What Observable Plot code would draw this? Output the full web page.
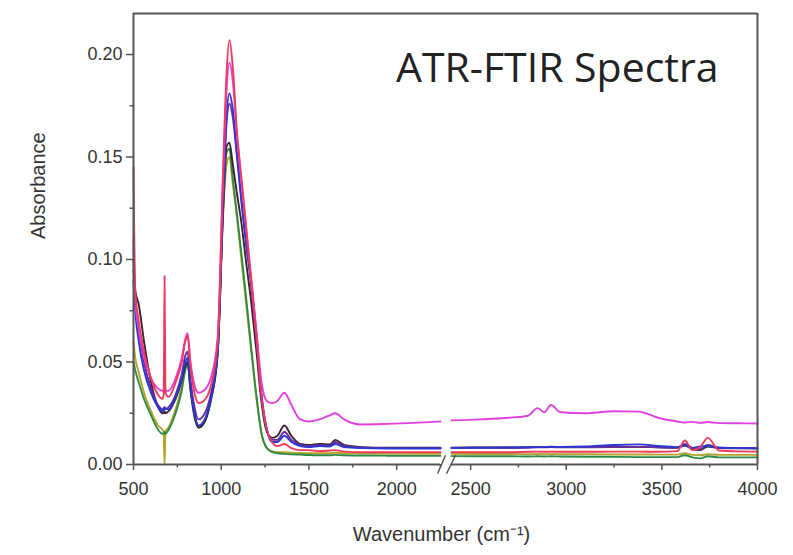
<!DOCTYPE html>
<html>
<head>
<meta charset="utf-8">
<script src="https://cdn.jsdelivr.net/npm/d3@7"></script>
<script src="https://cdn.jsdelivr.net/npm/@observablehq/plot@0.6"></script>
<style>
  body { margin: 0; background: #fff; }
</style>
</head>
<body>
<div id="chart"></div>
<script>
// Wavenumber grid (cm-1); the axis is broken between 2250 and 2400
const wavenumber = [
  500, 510, 530, 560, 600, 640, 665, 672, 677, 682,
  700, 740, 775, 795, 808, 825, 850, 870, 900, 940,
  980, 1010, 1030, 1047, 1065, 1090, 1115, 1140, 1170, 1200,
  1230, 1260, 1290, 1320, 1360, 1400, 1450, 1500, 1560, 1620,
  1650, 1700, 1800, 1950, 2100, 2250,
  2400, 2550, 2700, 2800, 2850, 2885, 2920, 2970, 3100, 3250,
  3380, 3480, 3580, 3620, 3660, 3700, 3740, 3800, 3900, 4000
];

const absMagenta = [
  0.110, 0.080, 0.066, 0.052, 0.042, 0.037, 0.036, 0.036, 0.037, 0.036,
  0.036, 0.042, 0.052, 0.061, 0.064, 0.050, 0.038, 0.035, 0.036, 0.042,
  0.062, 0.138, 0.182, 0.196, 0.188, 0.160, 0.138, 0.117, 0.092, 0.066,
  0.040, 0.031, 0.030, 0.031, 0.035, 0.029, 0.022, 0.021, 0.022, 0.024,
  0.025, 0.022, 0.0195, 0.0198, 0.0203, 0.021,
  0.0215, 0.022, 0.0228, 0.0238, 0.0275, 0.0255, 0.029, 0.0255, 0.025, 0.026,
  0.0258, 0.0228, 0.021, 0.0205, 0.0208, 0.0203, 0.0207, 0.0202, 0.0201, 0.020
];

const absRed = [
  0.145, 0.085, 0.070, 0.055, 0.042, 0.034, 0.032, 0.034, 0.092, 0.035,
  0.033, 0.040, 0.050, 0.060, 0.063, 0.048, 0.034, 0.030, 0.031, 0.038,
  0.060, 0.142, 0.190, 0.207, 0.195, 0.162, 0.140, 0.118, 0.090, 0.063,
  0.033, 0.017, 0.011, 0.009, 0.010, 0.008, 0.007, 0.007, 0.0065, 0.0068,
  0.007, 0.0063, 0.006, 0.006, 0.006, 0.006,
  0.006, 0.006, 0.006, 0.0062, 0.0063, 0.0062, 0.0063, 0.0062, 0.0062, 0.0063,
  0.0063, 0.0062, 0.0065, 0.0117, 0.007, 0.0085, 0.013, 0.0068, 0.0064, 0.0063
];

const absBlue = [
  0.090, 0.075, 0.060, 0.046, 0.035, 0.028, 0.026, 0.027, 0.028, 0.027,
  0.027, 0.033, 0.042, 0.050, 0.052, 0.038, 0.024, 0.019, 0.021, 0.032,
  0.056, 0.128, 0.170, 0.181, 0.174, 0.152, 0.130, 0.110, 0.090, 0.064,
  0.034, 0.017, 0.011, 0.011, 0.014, 0.011, 0.009, 0.0085, 0.009, 0.0088,
  0.010, 0.0085, 0.008, 0.0078, 0.0078, 0.0078,
  0.008, 0.0082, 0.0083, 0.0084, 0.0085, 0.0085, 0.0086, 0.0086, 0.0088, 0.0095,
  0.0098, 0.009, 0.0085, 0.0095, 0.008, 0.0088, 0.009, 0.0082, 0.008, 0.0079
];

const absPurple = [
  0.095, 0.080, 0.066, 0.050, 0.037, 0.029, 0.027, 0.027, 0.028, 0.027,
  0.028, 0.034, 0.044, 0.053, 0.055, 0.041, 0.027, 0.022, 0.024, 0.034,
  0.057, 0.126, 0.166, 0.176, 0.170, 0.150, 0.128, 0.109, 0.088, 0.062,
  0.033, 0.017, 0.012, 0.012, 0.016, 0.012, 0.0095, 0.009, 0.0095, 0.009,
  0.011, 0.009, 0.0082, 0.008, 0.008, 0.008,
  0.0081, 0.0082, 0.0082, 0.0083, 0.0084, 0.0084, 0.0085, 0.0084, 0.0084, 0.0085,
  0.0086, 0.0084, 0.0083, 0.010, 0.008, 0.0075, 0.0095, 0.0082, 0.0081, 0.008
];

const absDark = [
  0.100, 0.085, 0.078, 0.060, 0.040, 0.028, 0.025, 0.025, 0.026, 0.025,
  0.026, 0.032, 0.041, 0.048, 0.050, 0.037, 0.023, 0.018, 0.020, 0.031,
  0.054, 0.122, 0.155, 0.157, 0.147, 0.132, 0.118, 0.100, 0.080, 0.056,
  0.030, 0.016, 0.013, 0.014, 0.019, 0.014, 0.010, 0.0095, 0.010, 0.0098,
  0.012, 0.0095, 0.0085, 0.0082, 0.0082, 0.0082,
  0.0082, 0.0083, 0.0083, 0.0084, 0.0086, 0.0085, 0.0087, 0.0085, 0.0085, 0.0086,
  0.0086, 0.0084, 0.0082, 0.0092, 0.0075, 0.007, 0.0088, 0.008, 0.0079, 0.0078
];

const absGreen = [
  0.050, 0.046, 0.040, 0.032, 0.024, 0.017, 0.015, 0.015, 0.016, 0.015,
  0.017, 0.025, 0.036, 0.046, 0.049, 0.036, 0.022, 0.018, 0.020, 0.031,
  0.055, 0.124, 0.152, 0.154, 0.140, 0.122, 0.103, 0.083, 0.058, 0.034,
  0.015, 0.008, 0.006, 0.0055, 0.0052, 0.005, 0.0048, 0.0046, 0.0045, 0.0045,
  0.0047, 0.0045, 0.0044, 0.0043, 0.0042, 0.0042,
  0.0041, 0.004, 0.004, 0.0039, 0.004, 0.0039, 0.004, 0.0039, 0.0038, 0.0037,
  0.0036, 0.0036, 0.0036, 0.0045, 0.0035, 0.003, 0.004, 0.0035, 0.0035, 0.0035
];

const absOlive = [
  0.060, 0.052, 0.045, 0.035, 0.026, 0.019, 0.017, 0.016, 0.000, 0.016,
  0.018, 0.027, 0.038, 0.047, 0.050, 0.037, 0.023, 0.019, 0.021, 0.032,
  0.055, 0.120, 0.146, 0.150, 0.138, 0.120, 0.100, 0.080, 0.056, 0.033,
  0.015, 0.008, 0.0065, 0.006, 0.006, 0.0058, 0.0056, 0.0055, 0.0055, 0.0055,
  0.0057, 0.0055, 0.0054, 0.0053, 0.0052, 0.0052,
  0.0052, 0.0051, 0.0051, 0.005, 0.0051, 0.005, 0.0051, 0.005, 0.005, 0.0049,
  0.0049, 0.0048, 0.0048, 0.0055, 0.0047, 0.0045, 0.005, 0.0047, 0.0047, 0.0047
];

// Drawing order: first drawn ends up underneath
const spectra = [
  {values: absOlive,   color: "#b3a42c"},
  {values: absGreen,   color: "#2f8a44"},
  {values: absDark,    color: "#3a2231"},
  {values: absPurple,  color: "#6b2b9e"},
  {values: absBlue,    color: "#2b37d2"},
  {values: absMagenta, color: "#e040e0"},
  {values: absRed,     color: "#ee3a5c"}
];

const xTicks = [500, 1000, 1500, 2000, 2500, 3000, 3500, 4000];
const xMinorTicks = [750, 1250, 1750, 2250, 2750, 3250, 3750];
const yTicks = [0, 0.05, 0.10, 0.15, 0.20];
const yMinorTicks = [0.025, 0.075, 0.125, 0.175];
const axisBreak = [2250, 2400];
const yMax = 0.22;

// Split each spectrum at the axis break so no line crosses it
function spectrumRows(values) {
  const rows = [];
  wavenumber.forEach((w, i) => {
    if (i > 0 && wavenumber[i - 1] <= axisBreak[0] && w >= axisBreak[1]) {
      rows.push({w: NaN, a: NaN});
    }
    rows.push({w, a: values[i]});
  });
  return rows;
}

const frameColor = "#555";
const textColor = "#333";
const sans = "'Liberation Sans', Arial, sans-serif";

const chart = Plot.plot({
  width: 793,
  height: 555,
  marginLeft: 133,
  marginRight: 36,
  marginTop: 13,
  marginBottom: 91,
  style: {fontFamily: sans, fontSize: "18px", background: "#fff", color: textColor},
  x: {
    type: "linear",
    domain: [500, axisBreak[0], axisBreak[1], 4000],
    range: [133, 440, 451, 757],
    axis: null
  },
  y: {type: "linear", domain: [0, yMax], axis: null},
  marks: [
    ...spectra.map(s => Plot.line(spectrumRows(s.values), {
      x: "w", y: "a", stroke: s.color, strokeWidth: 1.9, curve: "monotone-x"
    })),
    // frame with a broken bottom edge
    Plot.ruleX([500, 4000], {y1: 0, y2: yMax, stroke: frameColor, strokeWidth: 2}),
    Plot.ruleY([yMax], {x1: 500, x2: 4000, stroke: frameColor, strokeWidth: 2}),
    Plot.ruleY([{x1: 500, x2: axisBreak[0]}, {x1: axisBreak[1], x2: 4000}],
      {y: 0, x1: "x1", x2: "x2", stroke: frameColor, strokeWidth: 2}),
    Plot.link([{x1: 2233, x2: 2318}, {x1: 2332, x2: 2421}],
      {x1: "x1", x2: "x2", y1: -0.0045, y2: 0.0045, stroke: frameColor, strokeWidth: 1.5}),
    // axes
    Plot.axisX(xTicks, {tickSize: 6, tickPadding: 12, tickFormat: d => String(d),
      fontSize: 18, fill: textColor, stroke: frameColor, strokeWidth: 1.5, label: null}),
    Plot.axisX(xMinorTicks, {tickSize: 3.5, tickFormat: () => "",
      stroke: frameColor, strokeWidth: 1.5, label: null}),
    Plot.axisY(yTicks, {tickSize: 7, tickPadding: 4, tickFormat: d3.format(".2f"),
      fontSize: 18, fill: textColor, stroke: frameColor, strokeWidth: 1.5, label: null}),
    Plot.axisY(yMinorTicks, {tickSize: 3.5, tickFormat: () => "",
      stroke: frameColor, strokeWidth: 1.5, label: null}),
    // axis titles
    Plot.text(["Wavenumber (cm⁻¹)"], {frameAnchor: "bottom", dx: -4, dy: 70,
      fontSize: 20, fill: textColor, lineAnchor: "middle"}),
    Plot.text(["Absorbance"], {frameAnchor: "left", dx: -95, rotate: -90,
      fontSize: 20, fill: textColor, lineAnchor: "middle"}),
    // chart title inside the frame
    Plot.text(["ATR-FTIR Spectra"], {frameAnchor: "top-right", dx: -39, dy: 55,
      textAnchor: "end", lineAnchor: "middle", fontSize: 41,
      fontFamily: "'Open Sans', sans-serif", fill: "#222"})
  ]
});

document.getElementById("chart").appendChild(chart);
</script>
</body>
</html>
